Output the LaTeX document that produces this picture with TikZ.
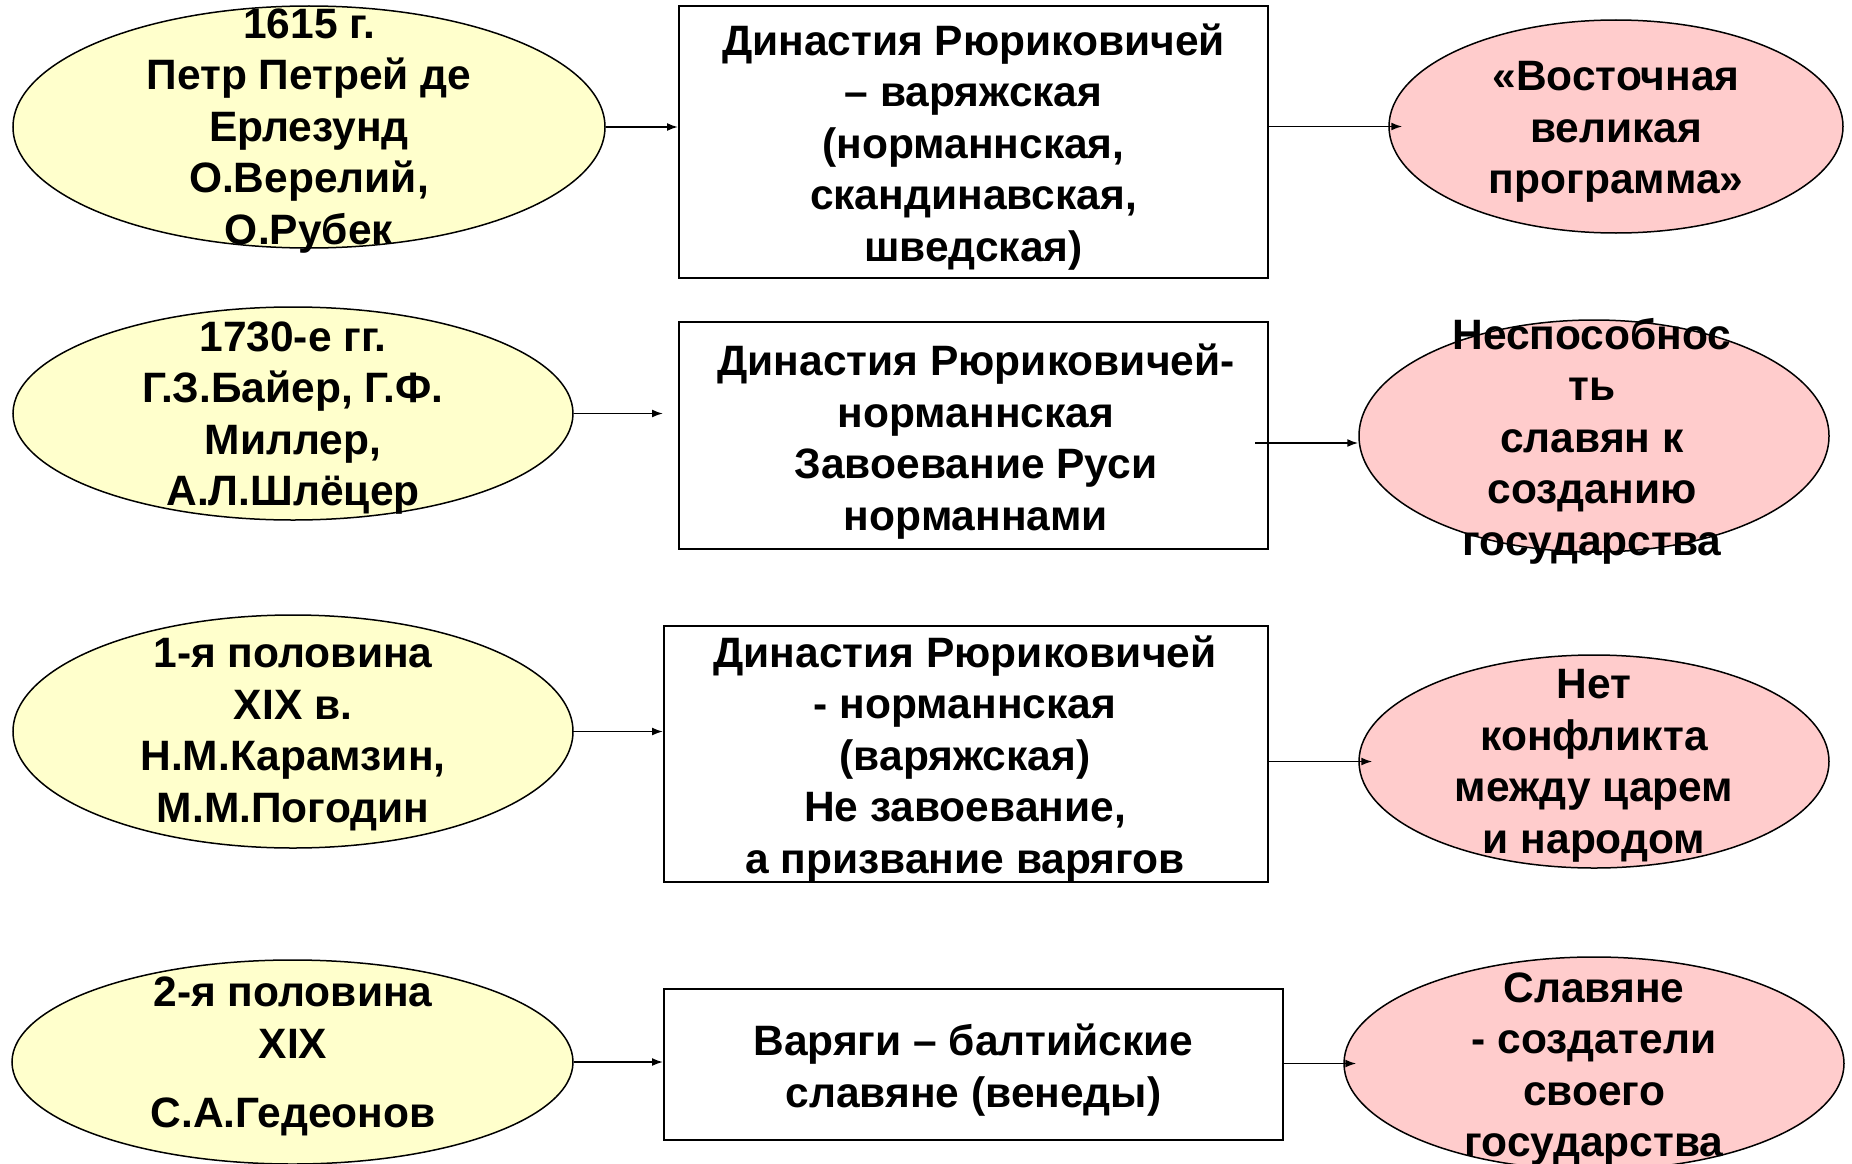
\documentclass[tikz,border=0pt]{standalone}
\usepackage{fontspec}
\setmainfont{Liberation Sans}
\usetikzlibrary{shapes.geometric,arrows.meta,calc}
\definecolor{ylw}{RGB}{255,255,204}
\definecolor{pnk}{RGB}{255,204,204}
\tikzset{
  leftell/.style={ellipse,draw=black,line width=1.5pt,fill=ylw,inner sep=0pt},
  rightell/.style={ellipse,draw=black,line width=1.5pt,fill=pnk,inner sep=0pt},
  midbox/.style={rectangle,draw=black,line width=2pt,fill=white,inner sep=0pt},
  txt/.style={align=center,inner sep=0pt,yshift=-4pt,font=\bfseries\fontsize{42.5}{51.5}\selectfont},
  arr/.style={line width=1.7pt,-{Latex[length=11pt,width=8pt]}}
}
\begin{document}
\begin{tikzpicture}[x=1pt,y=-1pt]
\fill[white] (0,0) rectangle (1852,1164);
\useasboundingbox (0,0) rectangle (1852,1164);
% row 1
\node[leftell,minimum width=592pt,minimum height=242pt] (e1) at (309,127) {};
\node[midbox,minimum width=589pt,minimum height=272pt] (b1) at (973.5,142) {};
\node[rightell,minimum width=454pt,minimum height=213pt] (r1) at (1616,126.5) {};
% row 2
\node[leftell,minimum width=560pt,minimum height=213pt] (e2) at (293,413.5) {};
\node[midbox,minimum width=589pt,minimum height=227pt] (b2) at (973.5,435.5) {};
\node[rightell,minimum width=470pt,minimum height=232pt] (r2) at (1594,436) {};
% row 3
\node[leftell,minimum width=560pt,minimum height=233pt] (e3) at (293,731.5) {};
\node[midbox,minimum width=604pt,minimum height=256pt] (b3) at (966,754) {};
\node[rightell,minimum width=470pt,minimum height=213pt] (r3) at (1594,761.5) {};
% row 4
\node[leftell,minimum width=561pt,minimum height=204pt] (e4) at (292.5,1062) {};
\node[midbox,minimum width=619pt,minimum height=151pt] (b4) at (973.5,1064.5) {};
\node[rightell,minimum width=500pt,minimum height=213pt] (r4) at (1594,1063.5) {};
% texts
\node[txt] (e1t) at (309,127) {1615 г.\\Петр Петрей де\\Ерлезунд\\О.Верелий,\\О.Рубек};
\node[txt] (b1t) at (973.5,143) {Династия Рюриковичей\\– варяжская\\(норманнская,\\скандинавская,\\шведская)};
\node[txt] (r1t) at (1616,128) {«Восточная\\великая\\программа»};
\node[txt] (e2t) at (293,414) {1730-е гг.\\Г.З.Байер, Г.Ф.\\Миллер,\\А.Л.Шлёцер};
\node[txt] (b2t) at (976,437.5) {Династия Рюриковичей-\\норманнская\\Завоевание Руси\\норманнами};
\node[txt] (r2t) at (1592,437) {Неспособнос\\ть\\славян к\\созданию\\государства};
\node[txt] (e3t) at (293,730.5) {1-я половина\\XIX в.\\Н.М.Карамзин,\\М.М.Погодин};
\node[txt] (b3t) at (965,755) {Династия Рюриковичей\\- норманнская\\(варяжская)\\Не завоевание,\\а призвание варягов};
\node[txt] (r3t) at (1594,762) {Нет\\конфликта\\между царем\\и народом};
\node[txt] (e4t) at (293,1052.5) {2-я половина\\XIX\\[18pt]С.А.Гедеонов};
\node[txt] (b4t) at (973.5,1066) {Варяги – балтийские\\славяне (венеды)};
\node[txt] (r4t) at (1594,1065) {Славяне\\- создатели\\своего\\государства};
% arrows left -> middle
\draw[arr] (e1.east) -- (e1.east -| b1.west);
\draw[arr] (e2.east) -- ($(e2.east -| b2.west)+(-15,0)$);
\draw[arr] (e3.east) -- (e3.east -| b3.west);
\draw[arr] (e4.east) -- (e4.east -| b4.west);
% arrows middle -> right
\draw[arr] (r1.west -| b1.east) -- ($(r1.west)+(14,0)$);
\coordinate (a2e) at ($(r2.west)+(0,7)$);
\draw[arr] ($(a2e -| b2.east)+(-14,0)$) -- (a2e);
\draw[arr] (r3.west -| b3.east) -- ($(r3.west)+(14,0)$);
\draw[arr] (r4.west -| b4.east) -- ($(r4.west)+(13,0)$);
\end{tikzpicture}
\end{document}
